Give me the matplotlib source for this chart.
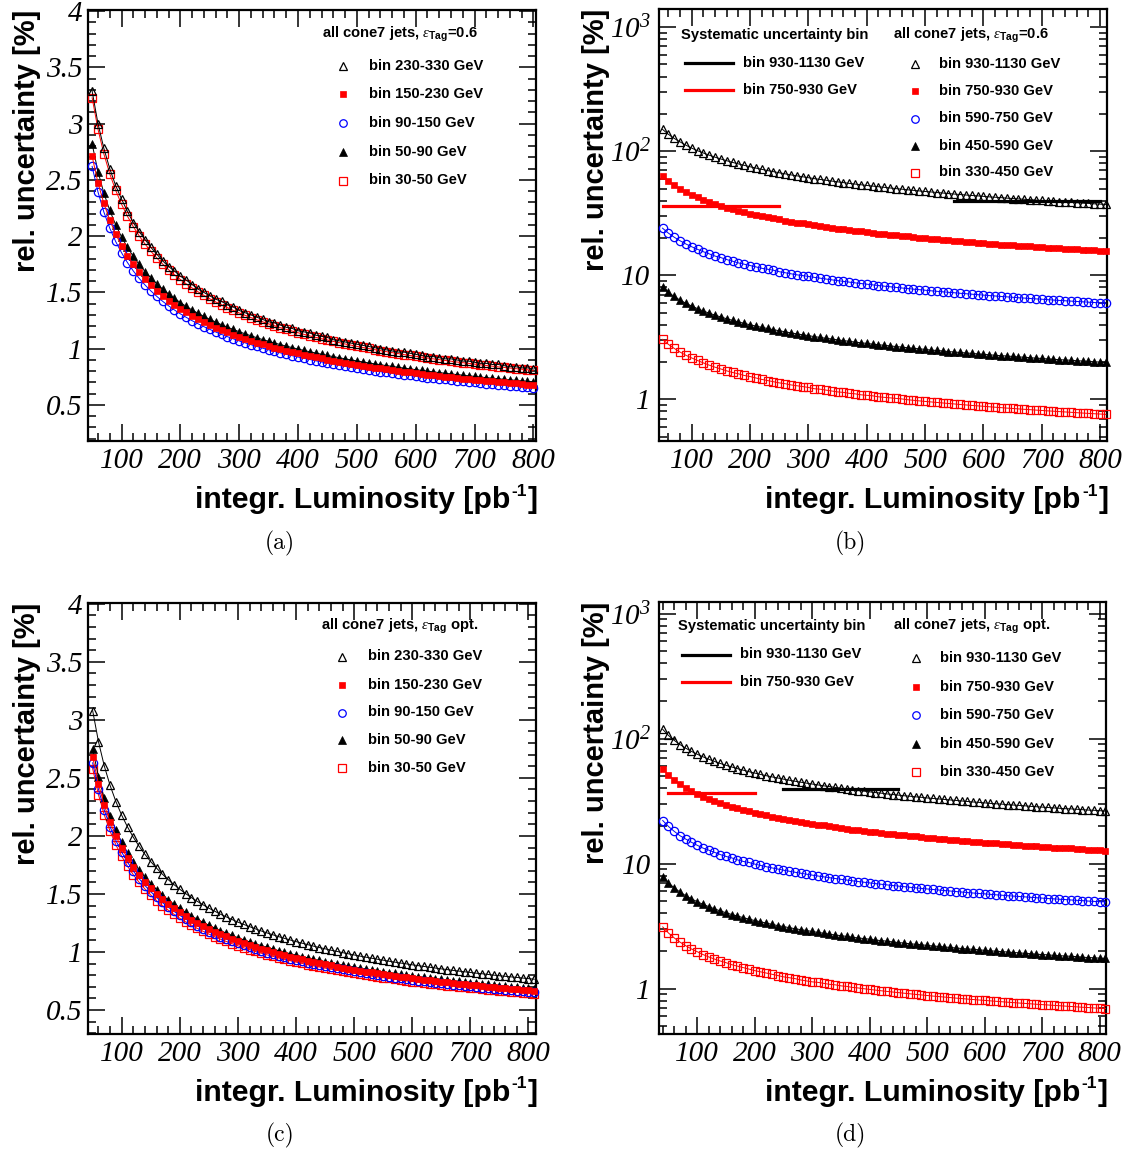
import numpy as np
import matplotlib.pyplot as plt
from matplotlib.lines import Line2D
from matplotlib.ticker import MultipleLocator, LogLocator, NullFormatter
from matplotlib.font_manager import FontProperties

plt.rcParams['mathtext.fontset'] = 'custom'
plt.rcParams['mathtext.rm'] = 'Liberation Serif:italic'
plt.rcParams['mathtext.it'] = 'Liberation Serif:italic'
plt.rcParams['mathtext.sf'] = 'Liberation Sans:bold'
plt.rcParams['mathtext.bf'] = 'Liberation Sans:bold'

# integrated luminosity points [pb^-1]
lum_a = np.arange(50, 801, 10)
lum_b = np.arange(50, 811, 10)
lum_c = np.arange(50, 811, 10)
lum_d = np.arange(40, 811, 10)

# ---- panel (a): eTag = 0.6, low pt bins
a_230_330 = [3.29, 3.00, 2.78, 2.60, 2.45, 2.33, 2.22, 2.12, 2.04, 1.97, 1.90, 1.84, 1.78, 1.73, 1.69, 1.645,
             1.61, 1.57, 1.53, 1.50, 1.47, 1.44, 1.42, 1.39, 1.37, 1.34, 1.32, 1.30, 1.28, 1.26, 1.24, 1.23,
             1.21, 1.19, 1.18, 1.16, 1.15, 1.14, 1.12, 1.11, 1.10, 1.08, 1.07, 1.06, 1.05, 1.04, 1.03, 1.02,
             1.01, 1.00, 0.99, 0.98, 0.97, 0.97, 0.96, 0.95, 0.94, 0.93, 0.93, 0.92, 0.91, 0.91, 0.90, 0.89,
             0.89, 0.88, 0.87, 0.87, 0.86, 0.86, 0.85, 0.84, 0.84, 0.83, 0.83, 0.82]
a_150_230 = [2.71, 2.474, 2.291, 2.143, 2.020, 1.916, 1.827, 1.749, 1.681, 1.620, 1.565, 1.515, 1.470, 1.428,
             1.390, 1.355, 1.322, 1.292, 1.264, 1.237, 1.212, 1.188, 1.166, 1.145, 1.125, 1.106, 1.088, 1.071,
             1.055, 1.039, 1.024, 1.010, 0.996, 0.983, 0.970, 0.958, 0.946, 0.935, 0.924, 0.914, 0.903, 0.893,
             0.884, 0.875, 0.866, 0.857, 0.849, 0.840, 0.832, 0.825, 0.817, 0.810, 0.803, 0.796, 0.789, 0.782,
             0.776, 0.770, 0.763, 0.757, 0.752, 0.746, 0.740, 0.735, 0.730, 0.724, 0.719, 0.714, 0.709, 0.704,
             0.700, 0.695, 0.691, 0.686, 0.682, 0.678]
a_90_150 = [2.62, 2.392, 2.214, 2.071, 1.953, 1.853, 1.766, 1.691, 1.625, 1.566, 1.513, 1.465, 1.421, 1.381,
            1.344, 1.31, 1.279, 1.249, 1.222, 1.196, 1.172, 1.149, 1.127, 1.107, 1.088, 1.069, 1.052, 1.036,
            1.020, 1.005, 0.990, 0.976, 0.963, 0.950, 0.938, 0.926, 0.915, 0.904, 0.893, 0.883, 0.873, 0.864,
            0.855, 0.845, 0.837, 0.828, 0.820, 0.812, 0.805, 0.797, 0.790, 0.783, 0.776, 0.769, 0.763, 0.756,
            0.750, 0.744, 0.738, 0.732, 0.727, 0.721, 0.716, 0.711, 0.705, 0.700, 0.695, 0.690, 0.686, 0.681,
            0.676, 0.672, 0.668, 0.663, 0.659, 0.655]
a_50_90 = [2.82, 2.574, 2.383, 2.229, 2.102, 1.994, 1.901, 1.820, 1.749, 1.685, 1.628, 1.576, 1.529, 1.486,
           1.447, 1.41, 1.376, 1.344, 1.315, 1.287, 1.261, 1.237, 1.213, 1.192, 1.171, 1.151, 1.133, 1.115,
           1.098, 1.081, 1.066, 1.051, 1.037, 1.023, 1.010, 0.997, 0.985, 0.973, 0.962, 0.951, 0.940, 0.930,
           0.920, 0.910, 0.901, 0.892, 0.883, 0.874, 0.866, 0.858, 0.850, 0.843, 0.835, 0.828, 0.821, 0.814,
           0.807, 0.801, 0.794, 0.788, 0.782, 0.776, 0.770, 0.765, 0.759, 0.754, 0.748, 0.743, 0.738, 0.733,
           0.728, 0.723, 0.719, 0.714, 0.710, 0.705]
a_30_50 = [3.23, 2.95, 2.73, 2.554, 2.408, 2.284, 2.178, 2.085, 2.003, 1.930, 1.865, 1.806, 1.752, 1.702,
           1.657, 1.615, 1.576, 1.540, 1.506, 1.474, 1.444, 1.416, 1.390, 1.365, 1.341, 1.318, 1.297, 1.277,
           1.257, 1.239, 1.221, 1.204, 1.187, 1.172, 1.157, 1.142, 1.128, 1.114, 1.101, 1.089, 1.077, 1.065,
           1.054, 1.042, 1.032, 1.021, 1.011, 1.002, 0.992, 0.983, 0.974, 0.965, 0.957, 0.948, 0.940, 0.933,
           0.925, 0.917, 0.910, 0.903, 0.896, 0.889, 0.882, 0.876, 0.870, 0.863, 0.857, 0.851, 0.845, 0.839,
           0.834, 0.828, 0.823, 0.818, 0.813, 0.808]

# ---- panel (b): eTag = 0.6, high pt bins
b_930_1130 = [150, 137, 127, 119, 112, 106, 101, 96.8, 93.0, 89.6, 86.6, 83.9, 81.3, 79.1, 77.0, 75.0, 73.2,
              71.5, 69.9, 68.5, 67.1, 65.8, 64.5, 63.4, 62.3, 61.2, 60.2, 59.3, 58.4, 57.5, 56.7, 55.9, 55.1,
              54.4, 53.7, 53.0, 52.4, 51.8, 51.2, 50.6, 50.0, 49.5, 48.9, 48.4, 47.9, 47.4, 47.0, 46.5, 46.1,
              45.6, 45.2, 44.8, 44.4, 44.0, 43.7, 43.3, 42.9, 42.6, 42.3, 41.9, 41.6, 41.3, 41.0, 40.7, 40.4,
              40.1, 39.8, 39.5, 39.3, 39.0, 38.7, 38.5, 38.2, 38.0, 37.7, 37.5, 37.3]
b_750_930 = [63.0, 57.5, 53.2, 49.8, 47.0, 44.5, 42.5, 40.7, 39.1, 37.6, 36.4, 35.2, 34.2, 33.2, 32.3, 31.5,
             30.7, 30.0, 29.4, 28.8, 28.2, 27.6, 27.1, 26.6, 26.2, 25.7, 25.3, 24.9, 24.5, 24.2, 23.8, 23.5,
             23.2, 22.9, 22.6, 22.3, 22.0, 21.7, 21.5, 21.2, 21.0, 20.8, 20.6, 20.3, 20.1, 19.9, 19.7, 19.5,
             19.3, 19.2, 19.0, 18.8, 18.7, 18.5, 18.3, 18.2, 18.0, 17.9, 17.7, 17.6, 17.5, 17.3, 17.2, 17.1,
             17.0, 16.8, 16.7, 16.6, 16.5, 16.4, 16.3, 16.2, 16.1, 16.0, 15.9, 15.75, 15.7]
b_590_750 = [24.0, 21.9, 20.3, 19.0, 17.9, 17.0, 16.2, 15.5, 14.9, 14.3, 13.9, 13.4, 13.0, 12.6, 12.3, 12.0,
             11.7, 11.4, 11.2, 11.0, 10.7, 10.5, 10.3, 10.1, 9.96, 9.80, 9.64, 9.49, 9.34, 9.20, 9.07, 8.94,
             8.82, 8.70, 8.59, 8.49, 8.38, 8.28, 8.18, 8.09, 8.00, 7.91, 7.83, 7.74, 7.67, 7.59, 7.51, 7.44,
             7.37, 7.30, 7.24, 7.17, 7.11, 7.05, 6.99, 6.93, 6.87, 6.82, 6.76, 6.71, 6.66, 6.60, 6.56, 6.51,
             6.46, 6.42, 6.37, 6.32, 6.28, 6.24, 6.20, 6.16, 6.12, 6.08, 6.04, 6.00, 5.96]
b_450_590 = [8.00, 7.30, 6.76, 6.32, 5.96, 5.66, 5.39, 5.16, 4.96, 4.78, 4.62, 4.47, 4.34, 4.22, 4.10, 4.00,
             3.90, 3.81, 3.73, 3.65, 3.58, 3.51, 3.44, 3.38, 3.32, 3.27, 3.21, 3.16, 3.11, 3.07, 3.02, 2.98,
             2.94, 2.90, 2.86, 2.83, 2.79, 2.76, 2.73, 2.70, 2.67, 2.64, 2.61, 2.58, 2.56, 2.53, 2.50, 2.48,
             2.46, 2.43, 2.41, 2.39, 2.37, 2.35, 2.33, 2.31, 2.29, 2.27, 2.25, 2.24, 2.22, 2.20, 2.19, 2.17,
             2.15, 2.14, 2.12, 2.11, 2.09, 2.08, 2.07, 2.05, 2.04, 2.03, 2.01, 2.00, 1.99]
b_330_450 = [3.05, 2.78, 2.58, 2.41, 2.27, 2.16, 2.06, 1.97, 1.89, 1.82, 1.76, 1.70, 1.65, 1.61, 1.56, 1.53,
             1.49, 1.45, 1.42, 1.39, 1.36, 1.34, 1.31, 1.29, 1.27, 1.25, 1.22, 1.21, 1.19, 1.17, 1.15, 1.14,
             1.12, 1.11, 1.09, 1.08, 1.07, 1.05, 1.04, 1.03, 1.02, 1.01, 0.995, 0.984, 0.974, 0.964, 0.955,
             0.946, 0.937, 0.928, 0.920, 0.911, 0.903, 0.895, 0.888, 0.881, 0.873, 0.866, 0.859, 0.852, 0.846,
             0.839, 0.833, 0.827, 0.821, 0.815, 0.809, 0.804, 0.798, 0.793, 0.788, 0.782, 0.777, 0.772, 0.767,
             0.763, 0.758]
b_syst_930_1130 = (550, 800, 39.5)   # (from, to, value)
b_syst_750_930 = (50, 250, 36.5)

# ---- panel (c): eTag optimised, low pt bins
c_230_330 = [3.08, 2.812, 2.603, 2.435, 2.296, 2.178, 2.077, 1.988, 1.910, 1.841, 1.778, 1.722, 1.670, 1.623,
             1.580, 1.54, 1.503, 1.468, 1.436, 1.406, 1.377, 1.351, 1.325, 1.302, 1.279, 1.257, 1.237, 1.218,
             1.199, 1.181, 1.164, 1.148, 1.132, 1.117, 1.103, 1.089, 1.076, 1.063, 1.050, 1.038, 1.027, 1.015,
             1.005, 0.994, 0.984, 0.974, 0.964, 0.955, 0.946, 0.937, 0.929, 0.920, 0.912, 0.904, 0.897, 0.889,
             0.882, 0.875, 0.868, 0.861, 0.854, 0.848, 0.841, 0.835, 0.829, 0.823, 0.817, 0.812, 0.806, 0.800,
             0.795, 0.790, 0.785, 0.780, 0.775, 0.770, 0.765]
c_150_230 = [2.68, 2.447, 2.265, 2.119, 1.998, 1.895, 1.807, 1.730, 1.662, 1.602, 1.547, 1.498, 1.453, 1.412,
             1.375, 1.34, 1.308, 1.278, 1.250, 1.223, 1.198, 1.175, 1.153, 1.133, 1.113, 1.094, 1.076, 1.059,
             1.043, 1.028, 1.013, 0.999, 0.985, 0.972, 0.960, 0.948, 0.936, 0.925, 0.914, 0.903, 0.893, 0.884,
             0.874, 0.865, 0.856, 0.847, 0.839, 0.831, 0.823, 0.816, 0.808, 0.801, 0.794, 0.787, 0.780, 0.774,
             0.767, 0.761, 0.755, 0.749, 0.743, 0.738, 0.732, 0.727, 0.721, 0.716, 0.711, 0.706, 0.701, 0.697,
             0.692, 0.687, 0.683, 0.679, 0.674, 0.670, 0.666]
c_90_150 = [2.63, 2.401, 2.223, 2.079, 1.960, 1.860, 1.773, 1.698, 1.631, 1.572, 1.519, 1.470, 1.426, 1.386,
            1.349, 1.315, 1.283, 1.254, 1.226, 1.200, 1.176, 1.153, 1.132, 1.111, 1.092, 1.074, 1.056, 1.040,
            1.024, 1.009, 0.994, 0.980, 0.967, 0.954, 0.942, 0.930, 0.918, 0.907, 0.897, 0.887, 0.877, 0.867,
            0.858, 0.849, 0.840, 0.832, 0.823, 0.816, 0.808, 0.800, 0.793, 0.786, 0.779, 0.772, 0.766, 0.759,
            0.753, 0.747, 0.741, 0.735, 0.730, 0.724, 0.719, 0.713, 0.708, 0.703, 0.698, 0.693, 0.688, 0.684,
            0.679, 0.675, 0.670, 0.666, 0.662, 0.658, 0.654]
c_50_90 = [2.75, 2.510, 2.324, 2.174, 2.050, 1.945, 1.854, 1.775, 1.706, 1.643, 1.588, 1.537, 1.491, 1.449,
           1.411, 1.375, 1.342, 1.311, 1.282, 1.255, 1.230, 1.206, 1.183, 1.162, 1.142, 1.123, 1.104, 1.087,
           1.070, 1.055, 1.040, 1.025, 1.011, 0.997, 0.985, 0.972, 0.960, 0.949, 0.938, 0.927, 0.917, 0.907,
           0.897, 0.887, 0.878, 0.870, 0.861, 0.853, 0.845, 0.837, 0.829, 0.822, 0.815, 0.807, 0.801, 0.794,
           0.787, 0.781, 0.775, 0.769, 0.763, 0.757, 0.751, 0.746, 0.740, 0.735, 0.730, 0.725, 0.720, 0.715,
           0.710, 0.705, 0.701, 0.696, 0.692, 0.688, 0.683]
c_30_50 = [2.58, 2.355, 2.181, 2.040, 1.923, 1.824, 1.739, 1.665, 1.600, 1.542, 1.490, 1.442, 1.399, 1.360,
           1.324, 1.29, 1.259, 1.230, 1.203, 1.178, 1.154, 1.131, 1.110, 1.090, 1.071, 1.053, 1.036, 1.020,
           1.004, 0.989, 0.975, 0.962, 0.948, 0.936, 0.924, 0.912, 0.901, 0.890, 0.880, 0.870, 0.860, 0.851,
           0.842, 0.833, 0.824, 0.816, 0.808, 0.800, 0.792, 0.785, 0.778, 0.771, 0.764, 0.757, 0.751, 0.745,
           0.739, 0.733, 0.727, 0.721, 0.716, 0.710, 0.705, 0.700, 0.695, 0.690, 0.685, 0.680, 0.675, 0.671,
           0.666, 0.662, 0.657, 0.653, 0.649, 0.645, 0.641]

# ---- panel (d): eTag optimised, high pt bins
d_930_1130 = [118.5, 106, 96.8, 89.6, 83.8, 79.0, 75.0, 71.5, 68.4, 65.7, 63.3, 61.2, 59.3, 57.5, 55.9, 54.4,
              53.0, 51.7, 50.5, 49.4, 48.4, 47.4, 46.5, 45.6, 44.8, 44.0, 43.3, 42.6, 41.9, 41.3, 40.7, 40.1,
              39.5, 39.0, 38.4, 38.0, 37.5, 37.0, 36.6, 36.1, 35.7, 35.3, 34.9, 34.6, 34.2, 33.9, 33.5, 33.2,
              32.9, 32.6, 32.3, 32.0, 31.7, 31.4, 31.1, 30.9, 30.6, 30.3, 30.1, 29.9, 29.6, 29.4, 29.2, 29.0,
              28.7, 28.5, 28.3, 28.1, 27.9, 27.7, 27.5, 27.4, 27.2, 27.0, 26.8, 26.7, 26.5, 26.3]
d_750_930 = [57.0, 51.0, 46.6, 43.1, 40.3, 38.0, 36.1, 34.4, 32.9, 31.6, 30.5, 29.4, 28.5, 27.7, 26.9, 26.2,
             25.5, 24.9, 24.3, 23.8, 23.3, 22.8, 22.4, 21.9, 21.6, 21.2, 20.8, 20.5, 20.2, 19.8, 19.6, 19.3,
             19.0, 18.7, 18.5, 18.3, 18.0, 17.8, 17.6, 17.4, 17.2, 17.0, 16.8, 16.6, 16.5, 16.3, 16.1, 16.0,
             15.8, 15.7, 15.5, 15.4, 15.2, 15.1, 15.0, 14.8, 14.7, 14.6, 14.5, 14.4, 14.3, 14.1, 14.0, 13.9,
             13.8, 13.7, 13.6, 13.5, 13.4, 13.3, 13.3, 13.2, 13.1, 13.0, 12.9, 12.8, 12.75, 12.7]
d_590_750 = [22.1, 19.8, 18.1, 16.7, 15.7, 14.8, 14.0, 13.3, 12.8, 12.3, 11.8, 11.4, 11.1, 10.7, 10.4, 10.2,
             9.90, 9.66, 9.44, 9.23, 9.04, 8.85, 8.68, 8.52, 8.37, 8.22, 8.08, 7.95, 7.83, 7.71, 7.59, 7.48,
             7.38, 7.28, 7.18, 7.09, 7.00, 6.91, 6.83, 6.75, 6.67, 6.60, 6.53, 6.46, 6.39, 6.32, 6.26, 6.20,
             6.14, 6.08, 6.03, 5.97, 5.92, 5.86, 5.81, 5.76, 5.72, 5.67, 5.62, 5.58, 5.53, 5.49, 5.45, 5.41,
             5.37, 5.33, 5.29, 5.25, 5.22, 5.18, 5.15, 5.11, 5.08, 5.05, 5.01, 4.98, 4.95, 4.92]
d_450_590 = [7.83, 7.00, 6.39, 5.92, 5.53, 5.22, 4.95, 4.72, 4.52, 4.34, 4.18, 4.04, 3.91, 3.80, 3.69, 3.59,
             3.50, 3.42, 3.34, 3.26, 3.19, 3.13, 3.07, 3.01, 2.96, 2.91, 2.86, 2.81, 2.77, 2.72, 2.68, 2.65,
             2.61, 2.57, 2.54, 2.51, 2.48, 2.44, 2.42, 2.39, 2.36, 2.33, 2.31, 2.28, 2.26, 2.24, 2.21, 2.19,
             2.17, 2.15, 2.13, 2.11, 2.09, 2.07, 2.06, 2.04, 2.02, 2.00, 1.99, 1.97, 1.96, 1.94, 1.93, 1.91,
             1.90, 1.88, 1.87, 1.86, 1.84, 1.83, 1.82, 1.81, 1.80, 1.78, 1.77, 1.76, 1.75, 1.74]
d_330_450 = [3.11, 2.78, 2.54, 2.35, 2.20, 2.07, 1.97, 1.87, 1.79, 1.72, 1.66, 1.61, 1.55, 1.51, 1.47, 1.43,
             1.39, 1.36, 1.33, 1.30, 1.27, 1.24, 1.22, 1.20, 1.17, 1.15, 1.13, 1.12, 1.10, 1.08, 1.07, 1.05,
             1.04, 1.02, 1.01, 0.996, 0.983, 0.971, 0.959, 0.948, 0.937, 0.927, 0.917, 0.907, 0.897, 0.888,
             0.879, 0.870, 0.862, 0.854, 0.846, 0.838, 0.831, 0.823, 0.816, 0.809, 0.803, 0.796, 0.790, 0.783,
             0.777, 0.771, 0.765, 0.760, 0.754, 0.748, 0.743, 0.738, 0.733, 0.728, 0.723, 0.718, 0.713, 0.708,
             0.704, 0.699, 0.695, 0.691]
d_syst_930_1130 = (250, 450, 39.8)
d_syst_750_930 = (50, 200, 36.7)

low_bins = ['bin 230-330 GeV', 'bin 150-230 GeV', 'bin 90-150 GeV', 'bin 50-90 GeV', 'bin 30-50 GeV']
high_bins = ['bin 930-1130 GeV', 'bin 750-930 GeV', 'bin 590-750 GeV', 'bin 450-590 GeV', 'bin 330-450 GeV']
syst_bins = ['bin 930-1130 GeV', 'bin 750-930 GeV']

# marker styles, in legend order
styles = [
    dict(marker='^', mfc='none', mec='black', ms=6.3, mew=0.9, color='black'),
    dict(marker='s', mfc='red', mec='red', ms=5.0, mew=0.5, color='red'),
    dict(marker='o', mfc='none', mec='blue', ms=6.0, mew=0.9, color='blue'),
    dict(marker='^', mfc='black', mec='black', ms=5.8, mew=0.5, color='black'),
    dict(marker='s', mfc='none', mec='red', ms=6.0, mew=0.9, color='red'),
]

W, H = 1127, 1156
fig = plt.figure(figsize=(W / 100, H / 100), dpi=100)

tick_fp = FontProperties(family='Liberation Serif', style='italic', size=21)
title_fp = FontProperties(family='Liberation Sans', weight='bold', size=21)
xtitle_fp = FontProperties(family='Liberation Sans', weight='bold', size=21.8)
sup_fp = FontProperties(family='Liberation Sans', weight='bold', size=12.5)
leg_fp = FontProperties(family='Liberation Sans', weight='bold', size=10.6)


def fx(x):
    return x / W


def fy(y):
    return 1 - y / H


def make_axes(l, t, r, b):
    return fig.add_axes([fx(l), fy(b), (r - l) / W, (b - t) / H])


def style_axes(ax, xlim, log):
    ax.set_xlim(*xlim)
    ax.set_xticks(range(100, 801, 100), [str(v) for v in range(100, 801, 100)], fontproperties=tick_fp)
    ax.xaxis.set_minor_locator(MultipleLocator(20))
    if log:
        ax.set_yscale('log')
        ax.set_yticks([1, 10, 100, 1000], ['1', '10', r'$10^{2}$', r'$10^{3}$'], fontproperties=tick_fp)
        ax.yaxis.set_minor_locator(LogLocator(base=10, subs=np.arange(2, 10)))
        ax.yaxis.set_minor_formatter(NullFormatter())
    else:
        yt = [0.5, 1, 1.5, 2, 2.5, 3, 3.5, 4]
        ax.set_yticks(yt, ['0.5', '1', '1.5', '2', '2.5', '3', '3.5', '4'], fontproperties=tick_fp)
        ax.yaxis.set_minor_locator(MultipleLocator(0.1))
    ax.tick_params(which='both', direction='in', top=True, right=True, width=1.1)
    ax.tick_params(which='major', length=12)
    ax.tick_params(which='minor', length=6)
    ax.tick_params(axis='x', pad=5)
    ax.tick_params(axis='y', pad=4 if not log else 6)
    for s in ax.spines.values():
        s.set_linewidth(1.6)


def draw_series(ax, lum, series):
    n = len(series)
    for i in range(n - 1, -1, -1):
        st = styles[i]
        ax.plot(lum, series[i], color=st['color'], lw=0.7, zorder=2 + (n - i))
        ax.plot(lum, series[i], ls='none', marker=st['marker'], mfc=st['mfc'], mec=st['mec'],
                ms=st['ms'], mew=st['mew'], zorder=3 + (n - i), clip_on=False)


def legend(header, hx, hy, mx, tx, ys, labels):
    fig.text(fx(hx), fy(hy), header, fontproperties=leg_fp, ha='left', va='center')
    for i, (y, lab) in enumerate(zip(ys, labels)):
        st = styles[i]
        fig.add_artist(Line2D([fx(mx)], [fy(y)], ls='none', marker=st['marker'], mfc=st['mfc'],
                              mec=st['mec'], ms=st['ms'] * 0.9, mew=st['mew'], transform=fig.transFigure))
        fig.text(fx(tx), fy(y), lab, fontproperties=leg_fp, ha='left', va='center')


def syst_legend(hx, hy, x0, x1, tx, ys):
    fig.text(fx(hx), fy(hy), 'Systematic uncertainty bin', fontproperties=leg_fp, ha='left', va='center')
    for y, col, lab in zip(ys, ['black', 'red'], syst_bins):
        fig.add_artist(Line2D([fx(x0), fx(x1)], [fy(y), fy(y)], color=col, lw=2.3, transform=fig.transFigure))
        fig.text(fx(tx), fy(y), lab, fontproperties=leg_fp, ha='left', va='center')


def titles(l, t, r, ytx, xty):
    fig.text(fx(ytx), fy(t), 'rel. uncertainty [%]', fontproperties=title_fp, rotation=90,
             ha='center', va='top')
    # x title: "integr. Luminosity [pb" + superscript "-1" + "]", right aligned at the frame
    fig.text(fx(r + 2), fy(xty), ']', fontproperties=xtitle_fp, ha='right', va='center')
    fig.text(fx(r - 9), fy(xty - 9), '-1', fontproperties=sup_fp, ha='right', va='center')
    fig.text(fx(r - 26), fy(xty), 'integr. Luminosity [pb', fontproperties=xtitle_fp, ha='right', va='center')


hdr_06 = r'all cone7 jets, $\epsilon_{\mathsf{Tag}}$=0.6'
hdr_opt = r'all cone7 jets, $\epsilon_{\mathsf{Tag}}$ opt.'

# (a)
ax = make_axes(88, 10, 536, 441)
style_axes(ax, (43, 804.5), False)
ax.set_ylim(0.18, 4.01)
draw_series(ax, lum_a, [a_230_330, a_150_230, a_90_150, a_50_90, a_30_50])
titles(88, 10, 536, 27.5, 500)
legend(hdr_06, 322, 34, 343, 369, [66, 94, 123, 152, 180.5], low_bins)

# (b)
ax = make_axes(659, 9, 1106.5, 441.3)
style_axes(ax, (44, 811), True)
ax.set_ylim(0.46, 1400)
draw_series(ax, lum_b, [b_930_1130, b_750_930, b_590_750, b_450_590, b_330_450])
for (x0, x1, v), col in [(b_syst_930_1130, 'black'), (b_syst_750_930, 'red')]:
    ax.plot([x0, x1], [v, v], color=col, lw=2.3, zorder=20)
titles(659, 9, 1106.5, 596, 500)
syst_legend(681, 35, 685, 733, 743, [63.3, 89.5])
legend(hdr_06, 893, 35, 915, 939, [64, 91, 118.5, 145.5, 172.5], high_bins)

# (c)
ax = make_axes(88.3, 602.7, 536, 1034.3)
style_axes(ax, (42.5, 813), False)
ax.set_ylim(0.29, 4.01)
draw_series(ax, lum_c, [c_230_330, c_150_230, c_90_150, c_50_90, c_30_50])
titles(88.3, 602.7, 536, 27.5, 1093)
legend(hdr_opt, 321, 626, 342, 368, [656.5, 685, 712.5, 740, 767.5], low_bins)

# (d)
ax = make_axes(659.3, 602, 1106, 1034.3)
style_axes(ax, (34, 811), True)
ax.set_ylim(0.43, 1240)
draw_series(ax, lum_d, [d_930_1130, d_750_930, d_590_750, d_450_590, d_330_450])
for (x0, x1, v), col in [(d_syst_930_1130, 'black'), (d_syst_750_930, 'red')]:
    ax.plot([x0, x1], [v, v], color=col, lw=2.3, zorder=20)
titles(659.3, 602, 1106, 596, 1093)
syst_legend(678, 626, 682, 730, 740, [654.5, 682])
legend(hdr_opt, 893, 626.5, 916, 940, [658, 687, 715, 744, 771.5], high_bins)

# captions
for lab, x, y in [('(a)', 280, 543), ('(b)', 850, 543), ('(c)', 280, 1135), ('(d)', 850, 1135)]:
    fig.text(fx(x), fy(y), lab, family='cmr10', size=17, ha='center', va='center')

fig.savefig('out.png', dpi=100)
